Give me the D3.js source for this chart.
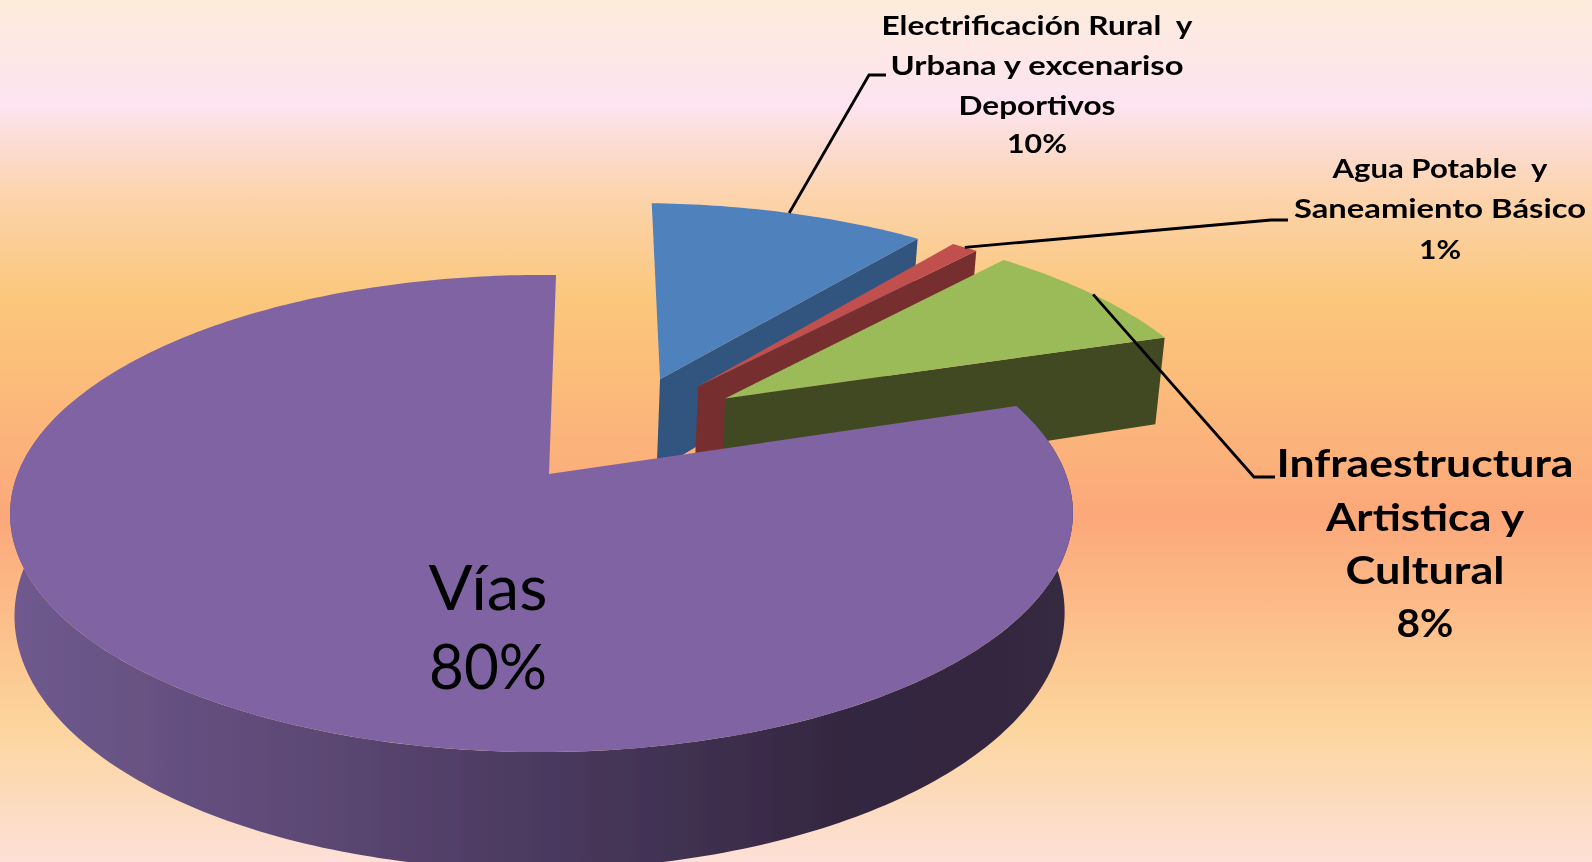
<!DOCTYPE html>
<html>
<head>
<meta charset="utf-8">
<script src="https://cdn.jsdelivr.net/npm/d3@7"></script>
<style>
  html, body { margin: 0; padding: 0; overflow: hidden; }
  svg { display: block; }
  text { font-family: Lato, "Open Sans", sans-serif; fill: #000; text-anchor: middle; white-space: pre; }
</style>
</head>
<body>
<div id="idMyCanvas"></div>
<script>
// Data (clockwise from the top)
// -------------------
let categories = ["Electrificación", "Agua", "Infraestructura", "Vías"];
let values = [10.4, 1.0, 8.3, 80.3];
let label_lines = [
   ["Electrificación Rural  y", "Urbana y excenariso", "Deportivos"],
   ["Agua Potable  y", "Saneamiento Básico"],
   ["Infraestructura", "Artistica y", "Cultural"],
   ["Vías"]
];
let bg_stops = [0, 0.12, 0.23, 0.35, 0.6, 0.84, 1];
let bg_colors = ["#fdecdc", "#fde4f1", "#fcd3ab", "#fbc77b", "#fca87a", "#fcd59c", "#fde0d8"];
// -------------------

let canvas_xn = 1592;
let canvas_yn = 862;

let svg_obj = d3.select("#idMyCanvas")
                .append("svg")
                  .attr("width", canvas_xn)
                  .attr("height", canvas_yn)
                  .attr("viewBox", [0, 0, canvas_xn, canvas_yn].join(" "));

let defs_obj = svg_obj.append("defs");

// the reference is a soft, upscaled image
defs_obj.append("filter")
   .attr("id", "soft")
   .attr("filterUnits", "userSpaceOnUse")
   .attr("x", 0).attr("y", 0)
   .attr("width", canvas_xn).attr("height", canvas_yn)
   .append("feGaussianBlur")
   .attr("stdDeviation", 0.6);

// Background
// -------------------
let bg_grad = defs_obj.append("linearGradient")
                  .attr("id", "bg_grad")
                  .attr("x1", 0).attr("y1", 0)
                  .attr("x2", 0).attr("y2", 1);
bg_grad.selectAll("stop")
   .data(bg_stops)
   .join("stop")
   .attr("offset", d => d)
   .attr("stop-color", (d, i) => bg_colors[i]);

svg_obj.append("rect")
   .attr("width", canvas_xn)
   .attr("height", canvas_yn)
   .attr("fill", "url(#bg_grad)");

let chart_g = svg_obj.append("g").attr("filter", "url(#soft)");
// -------------------


// Projection of the pie plane to the screen, with some perspective
// -------------------
let x0 = 549, y0 = 474;
let rx = 524, ry = 232;
let persp_v = 0.1656, persp_u = -0.014;
let depth = 98;
let bottom_scale = 0.988;
let bottom_shift = -2;

function project(u, v, low) {
   let w = 1 - persp_v * v - persp_u * u;
   let s = low ? bottom_scale : 1;
   return [x0 + (low ? bottom_shift : 0) + rx * s * u / w, y0 + (ry * v + (low ? depth : 0)) / w];
}

// explode offsets and radius of each slice, in pie radii
let offsets = [[0.228, -0.44], [0.305, -0.405], [0.357, -0.346], [0, 0]];
let radii = [1.012, 1.015, 1.02, 1];
let top_colors = ["#4f81bd", "#c0504d", "#9bbb59", "#8064a2"];
let side_colors = ["#31557f", "#772f2e", "#404a23", "url(#wall_grad)"];

let start_angle = 0.9 * Math.PI / 180;
let pie = d3.pie().sort(null).startAngle(start_angle).endAngle(start_angle + 2 * Math.PI);
let slices = pie(values);

let line_gen = d3.line();

function corner(a, i, low) {
   return project(offsets[i][0] + radii[i] * Math.sin(a), offsets[i][1] - radii[i] * Math.cos(a), low);
}

function apex(i, low) {
   return project(offsets[i][0], offsets[i][1], low);
}

function rim(a0, a1, i, low) {
   let n = Math.max(4, Math.ceil((a1 - a0) * 60));
   return d3.range(n + 1).map(k => corner(a0 + (a1 - a0) * k / n, i, low));
}
// -------------------


// Wall shading of the big slice
// -------------------
let wall_grad = defs_obj.append("linearGradient")
                  .attr("id", "wall_grad")
                  .attr("gradientUnits", "userSpaceOnUse")
                  .attr("x1", 10).attr("y1", 0)
                  .attr("x2", 1070).attr("y2", 0);
wall_grad.selectAll("stop")
   .data([[0, "#6f5a8e"], [0.25, "#5f4a78"], [0.55, "#47365a"], [0.8, "#33263f"], [1, "#362941"]])
   .join("stop")
   .attr("offset", d => d[0])
   .attr("stop-color", d => d[1]);
// -------------------


// Slices, back to front
// -------------------
let slice_g = chart_g.selectAll("g.slice")
   .data(slices)
   .join("g")
   .attr("class", "slice");

// only the cut face of the small slices shows
slice_g.filter((d, i) => i < 3)
   .append("path")
   .attr("d", (d, i) => line_gen([apex(i, false), corner(d.endAngle, i, false),
                                  corner(d.endAngle, i, true), apex(i, true)]) + "Z")
   .attr("fill", (d, i) => side_colors[i]);

// and only the front of the big slice's wall
slice_g.filter((d, i) => i == 3)
   .append("path")
   .attr("d", d => {
      let a0 = d.startAngle, a1 = 1.6 * Math.PI;
      return line_gen(rim(a0, a1, 3, false).concat(rim(a0, a1, 3, true).reverse())) + "Z";
   })
   .attr("fill", side_colors[3]);

slice_g.append("path")
   .attr("d", (d, i) => line_gen([apex(i, false)].concat(rim(d.startAngle, d.endAngle, i, false))) + "Z")
   .attr("fill", (d, i) => top_colors[i]);
// -------------------


// Leader lines from the middle of each small slice's rim
// -------------------
let elbows = [[[869, 75], [886, 75]], [[1271, 220], [1288, 220]], [[1254, 477], [1275, 477]]];

slices.slice(0, 3).forEach((d, i) => {
   let mid = (d.startAngle + d.endAngle) / 2;
   chart_g.append("path")
      .attr("d", line_gen([corner(mid, i, false)].concat(elbows[i])))
      .attr("fill", "none")
      .attr("stroke", "#000")
      .attr("stroke-width", 2.8);
});
// -------------------


// Labels
// -------------------
let pct = d => Math.round(d) + "%";

let label_specs = [
   { x: 1037, ys: [35, 75, 115, 153], size: 27, weight: 700, widths: [311, 293, 157, 60] },
   { x: 1440, ys: [178, 218, 259], size: 27, weight: 700, widths: [215, 292, 42] },
   { x: 1425, ys: [477, 531, 584, 637], size: 38, weight: 700, widths: [297, 198, 159, 57] },
   { x: 488, ys: [610, 689], size: 62, weight: 400, widths: [119, 118] }
];

label_specs.forEach((spec, i) => {
   let lines = label_lines[i].concat([pct(values[i])]);
   chart_g.selectAll("text.lab" + i)
      .data(lines)
      .join("text")
      .attr("class", "lab" + i)
      .attr("x", spec.x)
      .attr("y", (d, k) => spec.ys[k])
      .attr("font-size", spec.size)
      .attr("font-weight", spec.weight)
      .attr("textLength", (d, k) => spec.widths[k])
      .attr("lengthAdjust", "spacingAndGlyphs")
      .text(d => d);
});
// -------------------
</script>
</body>
</html>
